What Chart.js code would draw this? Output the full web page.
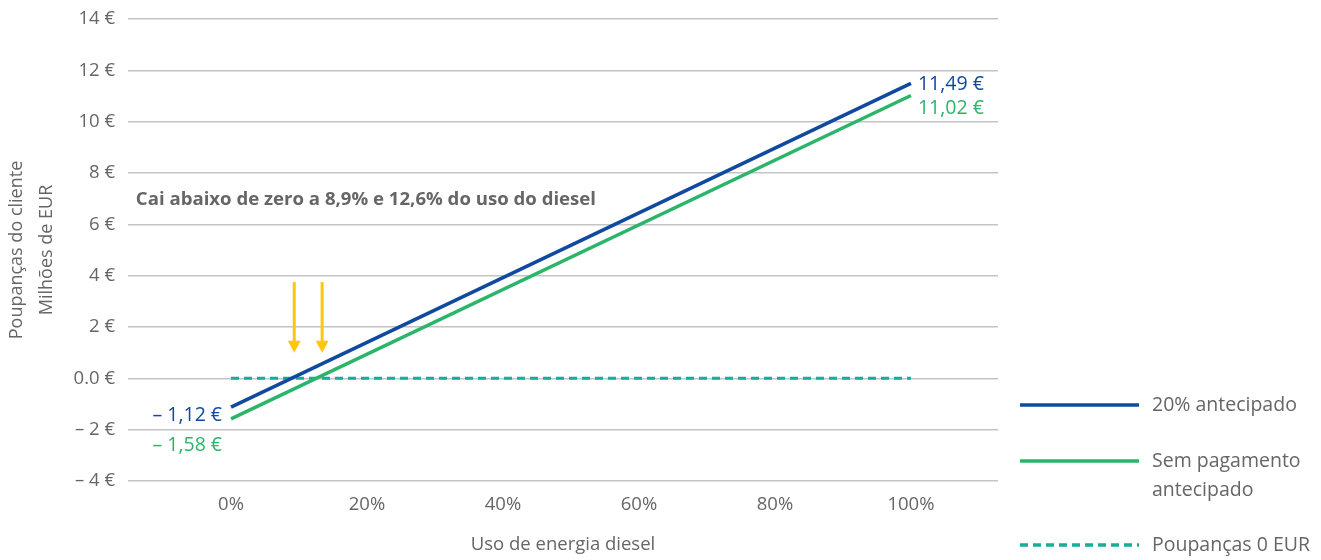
<!DOCTYPE html>
<html lang="pt">
<head>
<meta charset="utf-8">
<title>Poupanças do cliente</title>
<script src="https://cdn.jsdelivr.net/npm/chart.js@4/dist/chart.umd.min.js"></script>
<style>
  html, body { margin: 0; padding: 0; background: #ffffff; }
  #wrap { position: relative; width: 1321px; height: 560px; }
</style>
</head>
<body>
<div id="wrap"><canvas id="chart" width="1321" height="560"></canvas></div>
<script>
// Diesel share (%) at the two ends of each savings line
const dieselShare = [0, 100];
// Customer savings, million EUR
const upfront20 = [-1.12, 11.49];
const noUpfront = [-1.58, 11.02];
const zeroSavings = [0, 0];

const seriesNames = ['20% antecipado', ['Sem pagamento', 'antecipado'], 'Poupanças 0 EUR'];
const xTicks = [0, 20, 40, 60, 80, 100];
const yTicks = [-4, -2, 0, 2, 4, 6, 8, 10, 12, 14];

// Break-even markers (diesel share %) and their vertical span (million EUR)
const arrowX = [9.3, 13.4];
const arrowSpan = [3.75, 1.0];

const noteText = 'Cai abaixo de zero a 8,9% e 12,6% do uso do diesel';
const noteAt = { x: -14, y: 6.95 };

const BLUE = '#0f4aa0';
const GREEN = '#2bb56a';
const TEAL = '#1aab9b';
const YELLOW = '#ffc70a';
const GREY = '#666666';
const FONT = '"Open Sans", Lato, sans-serif';

function pts(ys) { return dieselShare.map((x, i) => ({ x, y: ys[i] })); }
function euro(v) {
  const s = Math.abs(v).toFixed(2).replace('.', ',') + ' €';
  return v < 0 ? '– ' + s : s;
}

const overlay = {
  id: 'overlay',
  afterDatasetsDraw(chart) {
    const { ctx, scales: { x, y } } = chart;
    ctx.save();

    // yellow break-even arrows
    ctx.strokeStyle = YELLOW;
    ctx.fillStyle = YELLOW;
    ctx.lineWidth = 3;
    arrowX.forEach(ax => {
      const px = x.getPixelForValue(ax);
      const top = y.getPixelForValue(arrowSpan[0]);
      const tip = y.getPixelForValue(arrowSpan[1]);
      ctx.beginPath();
      ctx.moveTo(px, top);
      ctx.lineTo(px, tip - 10);
      ctx.stroke();
      ctx.beginPath();
      ctx.moveTo(px - 6.5, tip - 12);
      ctx.lineTo(px + 6.5, tip - 12);
      ctx.lineTo(px, tip);
      ctx.closePath();
      ctx.fill();
    });

    // note
    ctx.font = 'bold 18.6px ' + FONT;
    ctx.fillStyle = GREY;
    ctx.textBaseline = 'middle';
    ctx.textAlign = 'left';
    ctx.fillText(noteText, x.getPixelForValue(noteAt.x), y.getPixelForValue(noteAt.y));

    // end-point value labels
    ctx.font = '19.5px ' + FONT;
    const last = dieselShare.length - 1;
    const xe = x.getPixelForValue(dieselShare[last]);
    const xs = x.getPixelForValue(dieselShare[0]);
    ctx.textAlign = 'left';
    ctx.fillStyle = BLUE;
    ctx.fillText(euro(upfront20[last]), xe + 7, y.getPixelForValue(upfront20[last]) + 1);
    ctx.fillStyle = GREEN;
    ctx.fillText(euro(noUpfront[last]), xe + 7, y.getPixelForValue(noUpfront[last]) + 13);
    ctx.textAlign = 'right';
    ctx.fillStyle = BLUE;
    ctx.fillText(euro(upfront20[0]), xs - 9, y.getPixelForValue(upfront20[0]) + 8);
    ctx.fillStyle = GREEN;
    ctx.fillText(euro(noUpfront[0]), xs - 9, y.getPixelForValue(noUpfront[0]) + 27);

    ctx.restore();
  },
  afterDraw(chart) {
    // legend on the right
    const { ctx } = chart;
    const items = [
      { c: BLUE, dash: [], y: 405 },
      { c: GREEN, dash: [], y: 461 },
      { c: TEAL, dash: [8, 5], y: 545 }
    ];
    ctx.save();
    ctx.font = '19.5px ' + FONT;
    ctx.textBaseline = 'middle';
    ctx.textAlign = 'left';
    items.forEach((it, i) => {
      ctx.strokeStyle = it.c;
      ctx.lineWidth = 3.5;
      ctx.setLineDash(it.dash);
      ctx.beginPath();
      ctx.moveTo(1020, it.y);
      ctx.lineTo(1139, it.y);
      ctx.stroke();
      ctx.setLineDash([]);
      ctx.fillStyle = GREY;
      const lines = [].concat(seriesNames[i]);
      lines.forEach((t, k) => ctx.fillText(t, 1152, it.y + k * 29));
    });
    ctx.restore();
  }
};

new Chart(document.getElementById('chart'), {
  type: 'line',
  data: {
    datasets: [
      { label: '20% antecipado', data: pts(upfront20), borderColor: BLUE, borderWidth: 3.5, pointRadius: 0, order: 1 },
      { label: 'Sem pagamento antecipado', data: pts(noUpfront), borderColor: GREEN, borderWidth: 3.5, pointRadius: 0, order: 2 },
      { label: 'Poupanças 0 EUR', data: pts(zeroSavings), borderColor: TEAL, borderWidth: 3, borderDash: [8, 5], pointRadius: 0, order: 3 }
    ]
  },
  options: {
    responsive: false,
    animation: false,
    events: [],
    layout: { padding: { left: 2, right: 323, top: 19, bottom: 0 } },
    plugins: { legend: { display: false }, tooltip: { enabled: false } },
    scales: {
      x: {
        type: 'linear',
        min: -15.15,
        max: 112.8,
        afterBuildTicks: s => { s.ticks = xTicks.map(v => ({ value: v })); },
        afterFit: s => { s.height = 79; s.paddingLeft = 0; s.paddingRight = 0; },
        grid: { display: false },
        border: { display: false },
        ticks: { color: GREY, font: { family: FONT, size: 18.5 }, padding: 5, callback: v => v + '%' },
        title: { display: true, text: 'Uso de energia diesel', color: GREY, font: { family: FONT, size: 18.5 }, padding: { top: 12 } }
      },
      y: {
        min: -4,
        max: 14,
        afterBuildTicks: s => { s.ticks = yTicks.map(v => ({ value: v })); },
        afterFit: s => { s.width = 126; s.paddingTop = 0; s.paddingBottom = 0; },
        grid: { color: '#c4c4c4', lineWidth: 1.5, drawTicks: false },
        border: { display: false },
        ticks: {
          color: GREY, font: { family: FONT, size: 18.5 }, padding: 13,
          callback: v => v === 0 ? '0.0 €' : (v < 0 ? '– ' + (-v) + ' €' : v + ' €')
        },
        title: {
          display: true, text: ['Poupanças do cliente', 'Milhões de EUR'], color: GREY,
          font: { family: FONT, size: 18, lineHeight: 1.65 }, padding: { top: 0, bottom: 0 }
        }
      }
    }
  },
  plugins: [overlay]
});
</script>
</body>
</html>
